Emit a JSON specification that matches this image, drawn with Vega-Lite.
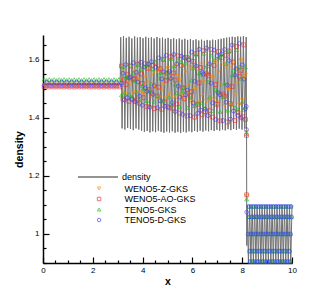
{
"$schema":"https://vega.github.io/schema/vega-lite/v6.json",
"width":249,"height":228,"autosize":"none",
"padding":{"left":43,"top":35,"right":40,"bottom":33},
"background":"white",
"config":{"view":{"stroke":null},"font":"Liberation Sans",
"axis":{"grid":false,"domainColor":"black","domainWidth":1.5,"tickColor":"black","tickWidth":1.2,"labelColor":"black","labelFont":"Liberation Sans","labelFontSize":8,"titleFont":"Liberation Sans","titleFontSize":10.5,"titleFontWeight":"bold","titleColor":"black","labelFlush":false},
"legend":{"labelFont":"Liberation Sans","labelFontSize":9,"labelColor":"black","padding":0}},
"datasets":{
"ln":[{"x":0,"y":1.516},{"x":3.1,"y":1.516},
{"x":3.12,"y":1.678},{"x":3.176,"y":1.364},{"x":3.232,"y":1.682},{"x":3.288,"y":1.36},{"x":3.344,"y":1.676},{"x":3.4,"y":1.366},{"x":3.456,"y":1.68},{"x":3.512,"y":1.362},{"x":3.568,"y":1.674},{"x":3.624,"y":1.358},{"x":3.68,"y":1.681},{"x":3.736,"y":1.364},{"x":3.792,"y":1.677},{"x":3.848,"y":1.36},{"x":3.904,"y":1.679},{"x":3.96,"y":1.356},{"x":4.016,"y":1.675},{"x":4.072,"y":1.352},{"x":4.128,"y":1.68},{"x":4.184,"y":1.355},{"x":4.24,"y":1.676},{"x":4.296,"y":1.35},{"x":4.352,"y":1.678},{"x":4.408,"y":1.354},{"x":4.464,"y":1.674},{"x":4.52,"y":1.351},{"x":4.576,"y":1.679},{"x":4.632,"y":1.356},{"x":4.688,"y":1.675},{"x":4.744,"y":1.352},{"x":4.8,"y":1.677},{"x":4.856,"y":1.349},{"x":4.912,"y":1.673},{"x":4.968,"y":1.353},{"x":5.024,"y":1.676},{"x":5.08,"y":1.35},{"x":5.136,"y":1.672},{"x":5.192,"y":1.354},{"x":5.248,"y":1.675},{"x":5.304,"y":1.349},{"x":5.36,"y":1.671},{"x":5.416,"y":1.352},{"x":5.472,"y":1.674},{"x":5.528,"y":1.348},{"x":5.584,"y":1.67},{"x":5.64,"y":1.353},{"x":5.696,"y":1.673},{"x":5.752,"y":1.35},{"x":5.808,"y":1.669},{"x":5.864,"y":1.354},{"x":5.92,"y":1.672},{"x":5.976,"y":1.351},{"x":6.032,"y":1.668},{"x":6.088,"y":1.355},{"x":6.144,"y":1.671},{"x":6.2,"y":1.352},{"x":6.256,"y":1.667},{"x":6.312,"y":1.356},{"x":6.368,"y":1.67},{"x":6.424,"y":1.353},{"x":6.48,"y":1.666},{"x":6.536,"y":1.357},{"x":6.592,"y":1.669},{"x":6.648,"y":1.354},{"x":6.704,"y":1.667},{"x":6.76,"y":1.358},{"x":6.816,"y":1.67},{"x":6.872,"y":1.355},{"x":6.928,"y":1.668},{"x":6.984,"y":1.359},{"x":7.04,"y":1.671},{"x":7.096,"y":1.356},{"x":7.152,"y":1.673},{"x":7.208,"y":1.36},{"x":7.264,"y":1.675},{"x":7.32,"y":1.357},{"x":7.376,"y":1.677},{"x":7.432,"y":1.361},{"x":7.488,"y":1.678},{"x":7.544,"y":1.358},{"x":7.6,"y":1.68},{"x":7.656,"y":1.362},{"x":7.712,"y":1.679},{"x":7.768,"y":1.359},{"x":7.824,"y":1.681},{"x":7.88,"y":1.363},{"x":7.936,"y":1.68},{"x":7.992,"y":1.36},{"x":8.048,"y":1.682},{"x":8.104,"y":1.364},{"x":8.16,"y":1.679},
{"x":8.175,"y":1.36},{"x":8.185,"y":0.96},
{"x":8.2,"y":1.1},{"x":8.25,"y":0.9},{"x":8.3,"y":1.1},{"x":8.35,"y":0.9},{"x":8.4,"y":1.1},{"x":8.45,"y":0.9},{"x":8.5,"y":1.1},{"x":8.55,"y":0.9},{"x":8.6,"y":1.1},{"x":8.65,"y":0.9},{"x":8.7,"y":1.1},{"x":8.75,"y":0.9},{"x":8.8,"y":1.1},{"x":8.85,"y":0.9},{"x":8.9,"y":1.1},{"x":8.95,"y":0.9},{"x":9,"y":1.1},{"x":9.05,"y":0.9},{"x":9.1,"y":1.1},{"x":9.15,"y":0.9},{"x":9.2,"y":1.1},{"x":9.25,"y":0.9},{"x":9.3,"y":1.1},{"x":9.35,"y":0.9},{"x":9.4,"y":1.1},{"x":9.45,"y":0.9},{"x":9.5,"y":1.1},{"x":9.55,"y":0.9},{"x":9.6,"y":1.1},{"x":9.65,"y":0.9},{"x":9.7,"y":1.1},{"x":9.75,"y":0.9},{"x":9.8,"y":1.1},{"x":9.85,"y":0.9},{"x":9.9,"y":1.1},{"x":9.95,"y":0.9},{"x":10,"y":1.1}],
"pt":[
{"x":0.05,"y":1.513,"s":"Z"},{"x":0.15,"y":1.518,"s":"Z"},{"x":0.25,"y":1.513,"s":"Z"},{"x":0.35,"y":1.518,"s":"Z"},{"x":0.45,"y":1.513,"s":"Z"},{"x":0.55,"y":1.518,"s":"Z"},{"x":0.65,"y":1.513,"s":"Z"},{"x":0.75,"y":1.518,"s":"Z"},{"x":0.85,"y":1.513,"s":"Z"},{"x":0.95,"y":1.518,"s":"Z"},{"x":1.05,"y":1.513,"s":"Z"},{"x":1.15,"y":1.518,"s":"Z"},{"x":1.25,"y":1.513,"s":"Z"},{"x":1.35,"y":1.518,"s":"Z"},{"x":1.45,"y":1.513,"s":"Z"},{"x":1.55,"y":1.518,"s":"Z"},{"x":1.65,"y":1.513,"s":"Z"},{"x":1.75,"y":1.518,"s":"Z"},{"x":1.85,"y":1.513,"s":"Z"},{"x":1.95,"y":1.518,"s":"Z"},{"x":2.05,"y":1.513,"s":"Z"},{"x":2.15,"y":1.518,"s":"Z"},{"x":2.25,"y":1.513,"s":"Z"},{"x":2.35,"y":1.518,"s":"Z"},{"x":2.45,"y":1.513,"s":"Z"},{"x":2.55,"y":1.518,"s":"Z"},{"x":2.65,"y":1.513,"s":"Z"},{"x":2.75,"y":1.518,"s":"Z"},{"x":2.85,"y":1.513,"s":"Z"},{"x":2.95,"y":1.518,"s":"Z"},{"x":3.05,"y":1.513,"s":"Z"},
{"x":3.15,"y":1.533,"s":"Z"},{"x":3.21,"y":1.487,"s":"Z"},{"x":3.27,"y":1.562,"s":"Z"},{"x":3.33,"y":1.482,"s":"Z"},{"x":3.39,"y":1.542,"s":"Z"},{"x":3.45,"y":1.522,"s":"Z"},{"x":3.51,"y":1.52,"s":"Z"},{"x":3.57,"y":1.54,"s":"Z"},{"x":3.63,"y":1.485,"s":"Z"},{"x":3.69,"y":1.558,"s":"Z"},{"x":3.75,"y":1.49,"s":"Z"},{"x":3.81,"y":1.531,"s":"Z"},{"x":3.87,"y":1.533,"s":"Z"},{"x":3.93,"y":1.487,"s":"Z"},{"x":3.99,"y":1.562,"s":"Z"},{"x":4.05,"y":1.482,"s":"Z"},{"x":4.11,"y":1.542,"s":"Z"},{"x":4.17,"y":1.522,"s":"Z"},{"x":4.23,"y":1.493,"s":"Z"},{"x":4.29,"y":1.563,"s":"Z"},{"x":4.35,"y":1.474,"s":"Z"},{"x":4.41,"y":1.554,"s":"Z"},{"x":4.47,"y":1.51,"s":"Z"},{"x":4.53,"y":1.503,"s":"Z"},{"x":4.59,"y":1.56,"s":"Z"},{"x":4.65,"y":1.47,"s":"Z"},{"x":4.71,"y":1.564,"s":"Z"},{"x":4.77,"y":1.497,"s":"Z"},{"x":4.83,"y":1.515,"s":"Z"},{"x":4.89,"y":1.553,"s":"Z"},{"x":4.95,"y":1.469,"s":"Z"},{"x":5.01,"y":1.572,"s":"Z"},{"x":5.07,"y":1.483,"s":"Z"},{"x":5.13,"y":1.529,"s":"Z"},{"x":5.19,"y":1.543,"s":"Z"},{"x":5.25,"y":1.472,"s":"Z"},{"x":5.31,"y":1.578,"s":"Z"},{"x":5.37,"y":1.471,"s":"Z"},{"x":5.43,"y":1.544,"s":"Z"},{"x":5.49,"y":1.53,"s":"Z"},{"x":5.55,"y":1.48,"s":"Z"},{"x":5.61,"y":1.579,"s":"Z"},{"x":5.67,"y":1.461,"s":"Z"},{"x":5.73,"y":1.56,"s":"Z"},{"x":5.79,"y":1.513,"s":"Z"},{"x":5.85,"y":1.491,"s":"Z"},{"x":5.91,"y":1.576,"s":"Z"},{"x":5.97,"y":1.455,"s":"Z"},{"x":6.03,"y":1.573,"s":"Z"},{"x":6.09,"y":1.496,"s":"Z"},{"x":6.15,"y":1.506,"s":"Z"},{"x":6.21,"y":1.568,"s":"Z"},{"x":6.27,"y":1.453,"s":"Z"},{"x":6.33,"y":1.584,"s":"Z"},{"x":6.39,"y":1.479,"s":"Z"},{"x":6.45,"y":1.524,"s":"Z"},{"x":6.51,"y":1.555,"s":"Z"},{"x":6.57,"y":1.458,"s":"Z"},{"x":6.63,"y":1.59,"s":"Z"},{"x":6.69,"y":1.464,"s":"Z"},{"x":6.75,"y":1.542,"s":"Z"},{"x":6.81,"y":1.539,"s":"Z"},{"x":6.87,"y":1.466,"s":"Z"},{"x":6.93,"y":1.593,"s":"Z"},{"x":6.99,"y":1.453,"s":"Z"},{"x":7.05,"y":1.56,"s":"Z"},{"x":7.11,"y":1.52,"s":"Z"},{"x":7.17,"y":1.479,"s":"Z"},{"x":7.23,"y":1.588,"s":"Z"},{"x":7.29,"y":1.445,"s":"Z"},{"x":7.35,"y":1.576,"s":"Z"},{"x":7.41,"y":1.5,"s":"Z"},{"x":7.47,"y":1.496,"s":"Z"},{"x":7.53,"y":1.581,"s":"Z"},{"x":7.59,"y":1.443,"s":"Z"},{"x":7.65,"y":1.59,"s":"Z"},{"x":7.71,"y":1.48,"s":"Z"},{"x":7.77,"y":1.516,"s":"Z"},{"x":7.83,"y":1.567,"s":"Z"},{"x":7.89,"y":1.446,"s":"Z"},{"x":7.95,"y":1.599,"s":"Z"},{"x":8.01,"y":1.462,"s":"Z"},{"x":8.07,"y":1.537,"s":"Z"},{"x":8.13,"y":1.549,"s":"Z"},
{"x":8.17,"y":1.35,"s":"Z"},{"x":8.18,"y":1.13,"s":"Z"},
{"x":0.05,"y":1.507,"s":"A"},{"x":0.15,"y":1.511,"s":"A"},{"x":0.25,"y":1.507,"s":"A"},{"x":0.35,"y":1.511,"s":"A"},{"x":0.45,"y":1.507,"s":"A"},{"x":0.55,"y":1.511,"s":"A"},{"x":0.65,"y":1.507,"s":"A"},{"x":0.75,"y":1.511,"s":"A"},{"x":0.85,"y":1.507,"s":"A"},{"x":0.95,"y":1.511,"s":"A"},{"x":1.05,"y":1.507,"s":"A"},{"x":1.15,"y":1.511,"s":"A"},{"x":1.25,"y":1.507,"s":"A"},{"x":1.35,"y":1.511,"s":"A"},{"x":1.45,"y":1.507,"s":"A"},{"x":1.55,"y":1.511,"s":"A"},{"x":1.65,"y":1.507,"s":"A"},{"x":1.75,"y":1.511,"s":"A"},{"x":1.85,"y":1.507,"s":"A"},{"x":1.95,"y":1.511,"s":"A"},{"x":2.05,"y":1.507,"s":"A"},{"x":2.15,"y":1.511,"s":"A"},{"x":2.25,"y":1.507,"s":"A"},{"x":2.35,"y":1.511,"s":"A"},{"x":2.45,"y":1.507,"s":"A"},{"x":2.55,"y":1.511,"s":"A"},{"x":2.65,"y":1.507,"s":"A"},{"x":2.75,"y":1.511,"s":"A"},{"x":2.85,"y":1.507,"s":"A"},{"x":2.95,"y":1.511,"s":"A"},{"x":3.05,"y":1.507,"s":"A"},
{"x":3.15,"y":1.579,"s":"A"},{"x":3.21,"y":1.465,"s":"A"},{"x":3.27,"y":1.533,"s":"A"},{"x":3.33,"y":1.515,"s":"A"},{"x":3.39,"y":1.549,"s":"A"},{"x":3.45,"y":1.457,"s":"A"},{"x":3.51,"y":1.579,"s":"A"},{"x":3.57,"y":1.465,"s":"A"},{"x":3.63,"y":1.533,"s":"A"},{"x":3.69,"y":1.536,"s":"A"},{"x":3.75,"y":1.46,"s":"A"},{"x":3.81,"y":1.585,"s":"A"},{"x":3.87,"y":1.451,"s":"A"},{"x":3.93,"y":1.552,"s":"A"},{"x":3.99,"y":1.519,"s":"A"},{"x":4.05,"y":1.47,"s":"A"},{"x":4.11,"y":1.587,"s":"A"},{"x":4.17,"y":1.439,"s":"A"},{"x":4.23,"y":1.571,"s":"A"},{"x":4.29,"y":1.498,"s":"A"},{"x":4.35,"y":1.486,"s":"A"},{"x":4.41,"y":1.581,"s":"A"},{"x":4.47,"y":1.432,"s":"A"},{"x":4.53,"y":1.589,"s":"A"},{"x":4.59,"y":1.476,"s":"A"},{"x":4.65,"y":1.506,"s":"A"},{"x":4.71,"y":1.57,"s":"A"},{"x":4.77,"y":1.43,"s":"A"},{"x":4.83,"y":1.602,"s":"A"},{"x":4.89,"y":1.454,"s":"A"},{"x":4.95,"y":1.53,"s":"A"},{"x":5.01,"y":1.554,"s":"A"},{"x":5.07,"y":1.435,"s":"A"},{"x":5.13,"y":1.611,"s":"A"},{"x":5.19,"y":1.434,"s":"A"},{"x":5.25,"y":1.555,"s":"A"},{"x":5.31,"y":1.531,"s":"A"},{"x":5.37,"y":1.448,"s":"A"},{"x":5.43,"y":1.614,"s":"A"},{"x":5.49,"y":1.417,"s":"A"},{"x":5.55,"y":1.581,"s":"A"},{"x":5.61,"y":1.504,"s":"A"},{"x":5.67,"y":1.467,"s":"A"},{"x":5.73,"y":1.608,"s":"A"},{"x":5.79,"y":1.407,"s":"A"},{"x":5.85,"y":1.603,"s":"A"},{"x":5.91,"y":1.475,"s":"A"},{"x":5.97,"y":1.491,"s":"A"},{"x":6.03,"y":1.595,"s":"A"},{"x":6.09,"y":1.403,"s":"A"},{"x":6.15,"y":1.622,"s":"A"},{"x":6.21,"y":1.447,"s":"A"},{"x":6.27,"y":1.521,"s":"A"},{"x":6.33,"y":1.574,"s":"A"},{"x":6.39,"y":1.411,"s":"A"},{"x":6.45,"y":1.632,"s":"A"},{"x":6.51,"y":1.422,"s":"A"},{"x":6.57,"y":1.552,"s":"A"},{"x":6.63,"y":1.546,"s":"A"},{"x":6.69,"y":1.425,"s":"A"},{"x":6.75,"y":1.636,"s":"A"},{"x":6.81,"y":1.403,"s":"A"},{"x":6.87,"y":1.581,"s":"A"},{"x":6.93,"y":1.515,"s":"A"},{"x":6.99,"y":1.447,"s":"A"},{"x":7.05,"y":1.629,"s":"A"},{"x":7.11,"y":1.39,"s":"A"},{"x":7.17,"y":1.609,"s":"A"},{"x":7.23,"y":1.482,"s":"A"},{"x":7.29,"y":1.475,"s":"A"},{"x":7.35,"y":1.616,"s":"A"},{"x":7.41,"y":1.386,"s":"A"},{"x":7.47,"y":1.631,"s":"A"},{"x":7.53,"y":1.449,"s":"A"},{"x":7.59,"y":1.508,"s":"A"},{"x":7.65,"y":1.593,"s":"A"},{"x":7.71,"y":1.391,"s":"A"},{"x":7.77,"y":1.646,"s":"A"},{"x":7.83,"y":1.419,"s":"A"},{"x":7.89,"y":1.543,"s":"A"},{"x":7.95,"y":1.564,"s":"A"},{"x":8.01,"y":1.404,"s":"A"},{"x":8.07,"y":1.652,"s":"A"},{"x":8.13,"y":1.395,"s":"A"},
{"x":8.17,"y":1.34,"s":"A"},{"x":8.18,"y":1.135,"s":"A"},
{"x":0.05,"y":1.533,"s":"T"},{"x":0.15,"y":1.53,"s":"T"},{"x":0.25,"y":1.533,"s":"T"},{"x":0.35,"y":1.53,"s":"T"},{"x":0.45,"y":1.533,"s":"T"},{"x":0.55,"y":1.53,"s":"T"},{"x":0.65,"y":1.533,"s":"T"},{"x":0.75,"y":1.53,"s":"T"},{"x":0.85,"y":1.533,"s":"T"},{"x":0.95,"y":1.53,"s":"T"},{"x":1.05,"y":1.533,"s":"T"},{"x":1.15,"y":1.53,"s":"T"},{"x":1.25,"y":1.533,"s":"T"},{"x":1.35,"y":1.53,"s":"T"},{"x":1.45,"y":1.533,"s":"T"},{"x":1.55,"y":1.53,"s":"T"},{"x":1.65,"y":1.533,"s":"T"},{"x":1.75,"y":1.53,"s":"T"},{"x":1.85,"y":1.533,"s":"T"},{"x":1.95,"y":1.53,"s":"T"},{"x":2.05,"y":1.533,"s":"T"},{"x":2.15,"y":1.53,"s":"T"},{"x":2.25,"y":1.533,"s":"T"},{"x":2.35,"y":1.53,"s":"T"},{"x":2.45,"y":1.533,"s":"T"},{"x":2.55,"y":1.53,"s":"T"},{"x":2.65,"y":1.533,"s":"T"},{"x":2.75,"y":1.53,"s":"T"},{"x":2.85,"y":1.533,"s":"T"},{"x":2.95,"y":1.53,"s":"T"},{"x":3.05,"y":1.533,"s":"T"},
{"x":3.15,"y":1.479,"s":"T"},{"x":3.21,"y":1.576,"s":"T"},{"x":3.27,"y":1.485,"s":"T"},{"x":3.33,"y":1.539,"s":"T"},{"x":3.39,"y":1.542,"s":"T"},{"x":3.45,"y":1.481,"s":"T"},{"x":3.51,"y":1.581,"s":"T"},{"x":3.57,"y":1.474,"s":"T"},{"x":3.63,"y":1.555,"s":"T"},{"x":3.69,"y":1.528,"s":"T"},{"x":3.75,"y":1.489,"s":"T"},{"x":3.81,"y":1.583,"s":"T"},{"x":3.87,"y":1.464,"s":"T"},{"x":3.93,"y":1.57,"s":"T"},{"x":3.99,"y":1.511,"s":"T"},{"x":4.05,"y":1.502,"s":"T"},{"x":4.11,"y":1.578,"s":"T"},{"x":4.17,"y":1.459,"s":"T"},{"x":4.23,"y":1.584,"s":"T"},{"x":4.29,"y":1.494,"s":"T"},{"x":4.35,"y":1.518,"s":"T"},{"x":4.41,"y":1.569,"s":"T"},{"x":4.47,"y":1.457,"s":"T"},{"x":4.53,"y":1.595,"s":"T"},{"x":4.59,"y":1.476,"s":"T"},{"x":4.65,"y":1.537,"s":"T"},{"x":4.71,"y":1.556,"s":"T"},{"x":4.77,"y":1.461,"s":"T"},{"x":4.83,"y":1.602,"s":"T"},{"x":4.89,"y":1.46,"s":"T"},{"x":4.95,"y":1.557,"s":"T"},{"x":5.01,"y":1.538,"s":"T"},{"x":5.07,"y":1.471,"s":"T"},{"x":5.13,"y":1.604,"s":"T"},{"x":5.19,"y":1.447,"s":"T"},{"x":5.25,"y":1.578,"s":"T"},{"x":5.31,"y":1.516,"s":"T"},{"x":5.37,"y":1.487,"s":"T"},{"x":5.43,"y":1.599,"s":"T"},{"x":5.49,"y":1.439,"s":"T"},{"x":5.55,"y":1.595,"s":"T"},{"x":5.61,"y":1.493,"s":"T"},{"x":5.67,"y":1.506,"s":"T"},{"x":5.73,"y":1.589,"s":"T"},{"x":5.79,"y":1.435,"s":"T"},{"x":5.85,"y":1.611,"s":"T"},{"x":5.91,"y":1.471,"s":"T"},{"x":5.97,"y":1.53,"s":"T"},{"x":6.03,"y":1.572,"s":"T"},{"x":6.09,"y":1.442,"s":"T"},{"x":6.15,"y":1.619,"s":"T"},{"x":6.21,"y":1.451,"s":"T"},{"x":6.27,"y":1.555,"s":"T"},{"x":6.33,"y":1.55,"s":"T"},{"x":6.39,"y":1.453,"s":"T"},{"x":6.45,"y":1.622,"s":"T"},{"x":6.51,"y":1.435,"s":"T"},{"x":6.57,"y":1.578,"s":"T"},{"x":6.63,"y":1.525,"s":"T"},{"x":6.69,"y":1.471,"s":"T"},{"x":6.75,"y":1.616,"s":"T"},{"x":6.81,"y":1.425,"s":"T"},{"x":6.87,"y":1.6,"s":"T"},{"x":6.93,"y":1.499,"s":"T"},{"x":6.99,"y":1.493,"s":"T"},{"x":7.05,"y":1.606,"s":"T"},{"x":7.11,"y":1.422,"s":"T"},{"x":7.17,"y":1.618,"s":"T"},{"x":7.23,"y":1.472,"s":"T"},{"x":7.29,"y":1.519,"s":"T"},{"x":7.35,"y":1.587,"s":"T"},{"x":7.41,"y":1.426,"s":"T"},{"x":7.47,"y":1.63,"s":"T"},{"x":7.53,"y":1.448,"s":"T"},{"x":7.59,"y":1.547,"s":"T"},{"x":7.65,"y":1.564,"s":"T"},{"x":7.71,"y":1.436,"s":"T"},{"x":7.77,"y":1.635,"s":"T"},{"x":7.83,"y":1.429,"s":"T"},{"x":7.89,"y":1.575,"s":"T"},{"x":7.95,"y":1.536,"s":"T"},{"x":8.01,"y":1.455,"s":"T"},{"x":8.07,"y":1.429,"s":"T"},{"x":8.13,"y":1.575,"s":"T"},
{"x":8.17,"y":1.345,"s":"T"},{"x":8.18,"y":1.12,"s":"T"},
{"x":8.24,"y":1,"s":"T"},{"x":8.26,"y":1.095,"s":"T"},{"x":8.28,"y":1.059,"s":"T"},{"x":8.3,"y":0.941,"s":"T"},{"x":8.32,"y":0.905,"s":"T"},{"x":8.34,"y":1,"s":"T"},{"x":8.36,"y":1.095,"s":"T"},{"x":8.38,"y":1.059,"s":"T"},{"x":8.4,"y":0.941,"s":"T"},{"x":8.42,"y":0.905,"s":"T"},{"x":8.44,"y":1,"s":"T"},{"x":8.46,"y":1.095,"s":"T"},{"x":8.48,"y":1.059,"s":"T"},{"x":8.5,"y":0.941,"s":"T"},{"x":8.52,"y":0.905,"s":"T"},{"x":8.54,"y":1,"s":"T"},{"x":8.56,"y":1.095,"s":"T"},{"x":8.58,"y":1.059,"s":"T"},{"x":8.6,"y":0.941,"s":"T"},{"x":8.62,"y":0.905,"s":"T"},{"x":8.64,"y":1,"s":"T"},{"x":8.66,"y":1.095,"s":"T"},{"x":8.68,"y":1.059,"s":"T"},{"x":8.7,"y":0.941,"s":"T"},{"x":8.72,"y":0.905,"s":"T"},{"x":8.74,"y":1,"s":"T"},{"x":8.76,"y":1.095,"s":"T"},{"x":8.78,"y":1.059,"s":"T"},{"x":8.8,"y":0.941,"s":"T"},{"x":8.82,"y":0.905,"s":"T"},{"x":8.84,"y":1,"s":"T"},{"x":8.86,"y":1.095,"s":"T"},{"x":8.88,"y":1.059,"s":"T"},{"x":8.9,"y":0.941,"s":"T"},{"x":8.92,"y":0.905,"s":"T"},{"x":8.94,"y":1,"s":"T"},{"x":8.96,"y":1.095,"s":"T"},{"x":8.98,"y":1.059,"s":"T"},{"x":9,"y":0.941,"s":"T"},{"x":9.02,"y":0.905,"s":"T"},{"x":9.04,"y":1,"s":"T"},{"x":9.06,"y":1.095,"s":"T"},{"x":9.08,"y":1.059,"s":"T"},{"x":9.1,"y":0.941,"s":"T"},{"x":9.12,"y":0.905,"s":"T"},{"x":9.14,"y":1,"s":"T"},{"x":9.16,"y":1.095,"s":"T"},{"x":9.18,"y":1.059,"s":"T"},{"x":9.2,"y":0.941,"s":"T"},{"x":9.22,"y":0.905,"s":"T"},{"x":9.24,"y":1,"s":"T"},{"x":9.26,"y":1.095,"s":"T"},{"x":9.28,"y":1.059,"s":"T"},{"x":9.3,"y":0.941,"s":"T"},{"x":9.32,"y":0.905,"s":"T"},{"x":9.34,"y":1,"s":"T"},{"x":9.36,"y":1.095,"s":"T"},{"x":9.38,"y":1.059,"s":"T"},{"x":9.4,"y":0.941,"s":"T"},{"x":9.42,"y":0.905,"s":"T"},{"x":9.44,"y":1,"s":"T"},{"x":9.46,"y":1.095,"s":"T"},{"x":9.48,"y":1.059,"s":"T"},{"x":9.5,"y":0.941,"s":"T"},{"x":9.52,"y":0.905,"s":"T"},{"x":9.54,"y":1,"s":"T"},{"x":9.56,"y":1.095,"s":"T"},{"x":9.58,"y":1.059,"s":"T"},{"x":9.6,"y":0.941,"s":"T"},{"x":9.62,"y":0.905,"s":"T"},{"x":9.64,"y":1,"s":"T"},{"x":9.66,"y":1.095,"s":"T"},{"x":9.68,"y":1.059,"s":"T"},{"x":9.7,"y":0.941,"s":"T"},{"x":9.72,"y":0.905,"s":"T"},{"x":9.74,"y":1,"s":"T"},{"x":9.76,"y":1.095,"s":"T"},{"x":9.78,"y":1.059,"s":"T"},{"x":9.8,"y":0.941,"s":"T"},{"x":9.82,"y":0.905,"s":"T"},{"x":9.84,"y":1,"s":"T"},{"x":9.86,"y":1.095,"s":"T"},{"x":9.88,"y":1.059,"s":"T"},{"x":9.9,"y":0.941,"s":"T"},{"x":9.92,"y":0.905,"s":"T"},{"x":9.94,"y":1,"s":"T"},{"x":9.96,"y":1.095,"s":"T"},{"x":9.98,"y":1.059,"s":"T"},
{"x":0.05,"y":1.512,"s":"D"},{"x":0.15,"y":1.523,"s":"D"},{"x":0.25,"y":1.512,"s":"D"},{"x":0.35,"y":1.523,"s":"D"},{"x":0.45,"y":1.512,"s":"D"},{"x":0.55,"y":1.523,"s":"D"},{"x":0.65,"y":1.512,"s":"D"},{"x":0.75,"y":1.523,"s":"D"},{"x":0.85,"y":1.512,"s":"D"},{"x":0.95,"y":1.523,"s":"D"},{"x":1.05,"y":1.512,"s":"D"},{"x":1.15,"y":1.523,"s":"D"},{"x":1.25,"y":1.512,"s":"D"},{"x":1.35,"y":1.523,"s":"D"},{"x":1.45,"y":1.512,"s":"D"},{"x":1.55,"y":1.523,"s":"D"},{"x":1.65,"y":1.512,"s":"D"},{"x":1.75,"y":1.523,"s":"D"},{"x":1.85,"y":1.512,"s":"D"},{"x":1.95,"y":1.523,"s":"D"},{"x":2.05,"y":1.512,"s":"D"},{"x":2.15,"y":1.523,"s":"D"},{"x":2.25,"y":1.512,"s":"D"},{"x":2.35,"y":1.523,"s":"D"},{"x":2.45,"y":1.512,"s":"D"},{"x":2.55,"y":1.523,"s":"D"},{"x":2.65,"y":1.512,"s":"D"},{"x":2.75,"y":1.523,"s":"D"},{"x":2.85,"y":1.512,"s":"D"},{"x":2.95,"y":1.523,"s":"D"},{"x":3.05,"y":1.512,"s":"D"},
{"x":3.15,"y":1.52,"s":"D"},{"x":3.21,"y":1.554,"s":"D"},{"x":3.27,"y":1.462,"s":"D"},{"x":3.33,"y":1.584,"s":"D"},{"x":3.39,"y":1.47,"s":"D"},{"x":3.45,"y":1.538,"s":"D"},{"x":3.51,"y":1.541,"s":"D"},{"x":3.57,"y":1.465,"s":"D"},{"x":3.63,"y":1.59,"s":"D"},{"x":3.69,"y":1.456,"s":"D"},{"x":3.75,"y":1.557,"s":"D"},{"x":3.81,"y":1.524,"s":"D"},{"x":3.87,"y":1.475,"s":"D"},{"x":3.93,"y":1.592,"s":"D"},{"x":3.99,"y":1.444,"s":"D"},{"x":4.05,"y":1.576,"s":"D"},{"x":4.11,"y":1.503,"s":"D"},{"x":4.17,"y":1.491,"s":"D"},{"x":4.23,"y":1.586,"s":"D"},{"x":4.29,"y":1.437,"s":"D"},{"x":4.35,"y":1.594,"s":"D"},{"x":4.41,"y":1.481,"s":"D"},{"x":4.47,"y":1.511,"s":"D"},{"x":4.53,"y":1.575,"s":"D"},{"x":4.59,"y":1.435,"s":"D"},{"x":4.65,"y":1.607,"s":"D"},{"x":4.71,"y":1.459,"s":"D"},{"x":4.77,"y":1.535,"s":"D"},{"x":4.83,"y":1.559,"s":"D"},{"x":4.89,"y":1.44,"s":"D"},{"x":4.95,"y":1.616,"s":"D"},{"x":5.01,"y":1.439,"s":"D"},{"x":5.07,"y":1.56,"s":"D"},{"x":5.13,"y":1.536,"s":"D"},{"x":5.19,"y":1.453,"s":"D"},{"x":5.25,"y":1.619,"s":"D"},{"x":5.31,"y":1.422,"s":"D"},{"x":5.37,"y":1.586,"s":"D"},{"x":5.43,"y":1.509,"s":"D"},{"x":5.49,"y":1.472,"s":"D"},{"x":5.55,"y":1.613,"s":"D"},{"x":5.61,"y":1.412,"s":"D"},{"x":5.67,"y":1.608,"s":"D"},{"x":5.73,"y":1.48,"s":"D"},{"x":5.79,"y":1.496,"s":"D"},{"x":5.85,"y":1.6,"s":"D"},{"x":5.91,"y":1.408,"s":"D"},{"x":5.97,"y":1.627,"s":"D"},{"x":6.03,"y":1.452,"s":"D"},{"x":6.09,"y":1.526,"s":"D"},{"x":6.15,"y":1.579,"s":"D"},{"x":6.21,"y":1.416,"s":"D"},{"x":6.27,"y":1.637,"s":"D"},{"x":6.33,"y":1.427,"s":"D"},{"x":6.39,"y":1.557,"s":"D"},{"x":6.45,"y":1.551,"s":"D"},{"x":6.51,"y":1.43,"s":"D"},{"x":6.57,"y":1.641,"s":"D"},{"x":6.63,"y":1.408,"s":"D"},{"x":6.69,"y":1.586,"s":"D"},{"x":6.75,"y":1.52,"s":"D"},{"x":6.81,"y":1.452,"s":"D"},{"x":6.87,"y":1.634,"s":"D"},{"x":6.93,"y":1.395,"s":"D"},{"x":6.99,"y":1.614,"s":"D"},{"x":7.05,"y":1.487,"s":"D"},{"x":7.11,"y":1.48,"s":"D"},{"x":7.17,"y":1.621,"s":"D"},{"x":7.23,"y":1.391,"s":"D"},{"x":7.29,"y":1.636,"s":"D"},{"x":7.35,"y":1.454,"s":"D"},{"x":7.41,"y":1.513,"s":"D"},{"x":7.47,"y":1.598,"s":"D"},{"x":7.53,"y":1.396,"s":"D"},{"x":7.59,"y":1.651,"s":"D"},{"x":7.65,"y":1.424,"s":"D"},{"x":7.71,"y":1.548,"s":"D"},{"x":7.77,"y":1.569,"s":"D"},{"x":7.83,"y":1.409,"s":"D"},{"x":7.89,"y":1.657,"s":"D"},{"x":7.95,"y":1.4,"s":"D"},{"x":8.01,"y":1.583,"s":"D"},{"x":8.07,"y":1.534,"s":"D"},{"x":8.13,"y":1.432,"s":"D"},
{"x":8.16,"y":1.44,"s":"D"},{"x":8.17,"y":1.36,"s":"D"},{"x":8.18,"y":1.075,"s":"D"},
{"x":8.24,"y":1,"s":"D"},{"x":8.26,"y":1.095,"s":"D"},{"x":8.28,"y":1.059,"s":"D"},{"x":8.3,"y":0.941,"s":"D"},{"x":8.32,"y":0.905,"s":"D"},{"x":8.34,"y":1,"s":"D"},{"x":8.36,"y":1.095,"s":"D"},{"x":8.38,"y":1.059,"s":"D"},{"x":8.4,"y":0.941,"s":"D"},{"x":8.42,"y":0.905,"s":"D"},{"x":8.44,"y":1,"s":"D"},{"x":8.46,"y":1.095,"s":"D"},{"x":8.48,"y":1.059,"s":"D"},{"x":8.5,"y":0.941,"s":"D"},{"x":8.52,"y":0.905,"s":"D"},{"x":8.54,"y":1,"s":"D"},{"x":8.56,"y":1.095,"s":"D"},{"x":8.58,"y":1.059,"s":"D"},{"x":8.6,"y":0.941,"s":"D"},{"x":8.62,"y":0.905,"s":"D"},{"x":8.64,"y":1,"s":"D"},{"x":8.66,"y":1.095,"s":"D"},{"x":8.68,"y":1.059,"s":"D"},{"x":8.7,"y":0.941,"s":"D"},{"x":8.72,"y":0.905,"s":"D"},{"x":8.74,"y":1,"s":"D"},{"x":8.76,"y":1.095,"s":"D"},{"x":8.78,"y":1.059,"s":"D"},{"x":8.8,"y":0.941,"s":"D"},{"x":8.82,"y":0.905,"s":"D"},{"x":8.84,"y":1,"s":"D"},{"x":8.86,"y":1.095,"s":"D"},{"x":8.88,"y":1.059,"s":"D"},{"x":8.9,"y":0.941,"s":"D"},{"x":8.92,"y":0.905,"s":"D"},{"x":8.94,"y":1,"s":"D"},{"x":8.96,"y":1.095,"s":"D"},{"x":8.98,"y":1.059,"s":"D"},{"x":9,"y":0.941,"s":"D"},{"x":9.02,"y":0.905,"s":"D"},{"x":9.04,"y":1,"s":"D"},{"x":9.06,"y":1.095,"s":"D"},{"x":9.08,"y":1.059,"s":"D"},{"x":9.1,"y":0.941,"s":"D"},{"x":9.12,"y":0.905,"s":"D"},{"x":9.14,"y":1,"s":"D"},{"x":9.16,"y":1.095,"s":"D"},{"x":9.18,"y":1.059,"s":"D"},{"x":9.2,"y":0.941,"s":"D"},{"x":9.22,"y":0.905,"s":"D"},{"x":9.24,"y":1,"s":"D"},{"x":9.26,"y":1.095,"s":"D"},{"x":9.28,"y":1.059,"s":"D"},{"x":9.3,"y":0.941,"s":"D"},{"x":9.32,"y":0.905,"s":"D"},{"x":9.34,"y":1,"s":"D"},{"x":9.36,"y":1.095,"s":"D"},{"x":9.38,"y":1.059,"s":"D"},{"x":9.4,"y":0.941,"s":"D"},{"x":9.42,"y":0.905,"s":"D"},{"x":9.44,"y":1,"s":"D"},{"x":9.46,"y":1.095,"s":"D"},{"x":9.48,"y":1.059,"s":"D"},{"x":9.5,"y":0.941,"s":"D"},{"x":9.52,"y":0.905,"s":"D"},{"x":9.54,"y":1,"s":"D"},{"x":9.56,"y":1.095,"s":"D"},{"x":9.58,"y":1.059,"s":"D"},{"x":9.6,"y":0.941,"s":"D"},{"x":9.62,"y":0.905,"s":"D"},{"x":9.64,"y":1,"s":"D"},{"x":9.66,"y":1.095,"s":"D"},{"x":9.68,"y":1.059,"s":"D"},{"x":9.7,"y":0.941,"s":"D"},{"x":9.72,"y":0.905,"s":"D"},{"x":9.74,"y":1,"s":"D"},{"x":9.76,"y":1.095,"s":"D"},{"x":9.78,"y":1.059,"s":"D"},{"x":9.8,"y":0.941,"s":"D"},{"x":9.82,"y":0.905,"s":"D"},{"x":9.84,"y":1,"s":"D"},{"x":9.86,"y":1.095,"s":"D"},{"x":9.88,"y":1.059,"s":"D"},{"x":9.9,"y":0.941,"s":"D"},{"x":9.92,"y":0.905,"s":"D"},{"x":9.94,"y":1,"s":"D"},{"x":9.96,"y":1.095,"s":"D"},{"x":9.98,"y":1.059,"s":"D"}
]},
"layer":[
{"data":{"name":"ln"},
"mark":{"type":"line","strokeWidth":1},
"encoding":{
"x":{"field":"x","type":"quantitative","scale":{"domain":[0,10],"nice":false,"zero":false},"axis":{"values":[0,2,4,6,8,10],"format":"d","tickSize":-6,"labelPadding":9,"title":"x","titlePadding":2}},
"y":{"field":"y","type":"quantitative","scale":{"domain":[0.9,1.686],"nice":false,"zero":false},"axis":{"values":[1,1.2,1.4,1.6],"format":"~g","tickSize":-6,"labelPadding":10,"title":"density","titlePadding":3}},
"stroke":{"datum":"density","type":"nominal","scale":{"range":["#707070"]},"legend":{"orient":"none","legendX":34,"legendY":121,"title":null,"symbolType":"stroke","symbolSize":1600,"symbolStrokeWidth":1.5,"labelOffset":3,"padding":0}}}},
{"data":{"name":"pt"},
"mark":{"type":"point","filled":false,"size":15,"strokeWidth":0.9},
"encoding":{
"x":{"field":"x","type":"quantitative","scale":{"domain":[0,10],"nice":false,"zero":false},"axis":{"orient":"bottom","values":[0.5,1,1.5,2.5,3,3.5,4.5,5,5.5,6.5,7,7.5,8.5,9,9.5],"labels":false,"domain":false,"tickSize":-3,"title":null}},
"y":{"field":"y","type":"quantitative","scale":{"domain":[0.9,1.686],"nice":false,"zero":false},"axis":{"orient":"left","values":[0.9,0.95,1.05,1.1,1.15,1.25,1.3,1.35,1.45,1.5,1.55,1.65],"labels":false,"domain":false,"tickSize":-3,"title":null}},
"color":{"field":"s","type":"nominal","scale":{"domain":["Z","A","T","D"],"range":["#ff8c00","#e8333a","#1fbf1f","#3d3dff"]},"legend":{"orient":"none","legendX":51.6,"legendY":149,"title":null,"labelOffset":21,"padding":0,"rowPadding":0.5,"symbolSize":12,"symbolStrokeWidth":1,"labelExpr":"datum.label=='Z'?'WENO5-Z-GKS':datum.label=='A'?'WENO5-AO-GKS':datum.label=='T'?'TENO5-GKS':'TENO5-D-GKS'"}},
"shape":{"field":"s","type":"nominal","scale":{"domain":["Z","A","T","D"],"range":["triangle-down","square","triangle-up","circle"]},"legend":{"orient":"none","legendX":51.6,"legendY":149,"title":null,"labelOffset":21,"padding":0,"rowPadding":0.5,"symbolSize":12,"symbolStrokeWidth":1,"labelExpr":"datum.label=='Z'?'WENO5-Z-GKS':datum.label=='A'?'WENO5-AO-GKS':datum.label=='T'?'TENO5-GKS':'TENO5-D-GKS'"}}}}
],
"resolve":{"axis":{"x":"independent","y":"independent"}}
}
